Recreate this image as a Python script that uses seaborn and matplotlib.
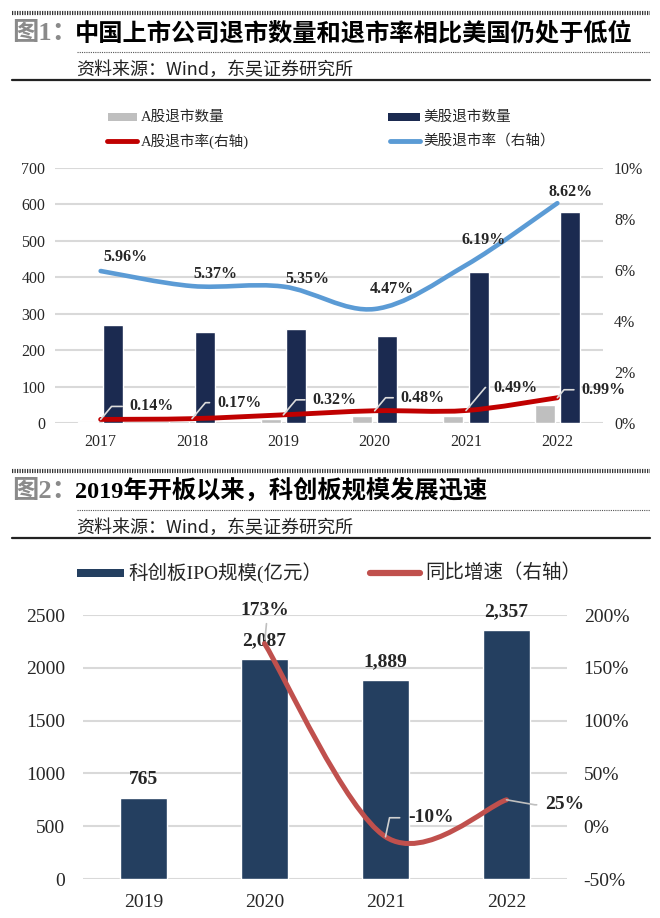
import matplotlib
matplotlib.use('Agg')
import matplotlib.pyplot as plt
from matplotlib.path import Path
from matplotlib.patches import PathPatch, Rectangle
from matplotlib.lines import Line2D
import seaborn as sns
import numpy as np
import pandas as pd

# ---- data: figure 1 ----
years1 = ['2017', '2018', '2019', '2020', '2021', '2022']
a_delist = [4, 5, 11, 19, 20, 50]
us_delist = [270, 251, 257, 238, 415, 578]
a_rate = [0.14, 0.17, 0.32, 0.48, 0.49, 0.99]
us_rate = [5.96, 5.37, 5.35, 4.47, 6.19, 8.62]

# ---- data: figure 2 ----
years2 = ['2019', '2020', '2021', '2022']
star_ipo = [765, 2087, 1889, 2357]
star_growth_years = [1, 2, 3]          # index into years2 (2020-2022)
star_growth = [173, -10, 25]

W, H = 660, 918
GRAY = '#bfbfbf'
NAVY1 = '#1b2a50'
NAVY2 = '#243f60'
RED1 = '#c00000'
BLUE1 = '#5b9bd5'
RED2 = '#c0504d'
GRID = '#d9d9d9'
SERIF = ['Liberation Serif', 'Noto Sans CJK SC']
SANS = ['Noto Sans CJK SC', 'DejaVu Sans']

sns.set_theme(style='white')
plt.rcParams['font.family'] = SERIF


def fx(x):
    return x / W


def fy(y):
    return 1 - y / H


def smooth_path(xs, ys):
    # excel-like smoothed line, drawn as bezier curves through the points
    pts = np.column_stack([xs, ys]).astype(float)
    ext = np.vstack([pts[0], pts, pts[-1]])
    verts = [pts[0]]
    codes = [Path.MOVETO]
    for i in range(len(pts) - 1):
        p0, p1, p2, p3 = ext[i], ext[i + 1], ext[i + 2], ext[i + 3]
        verts += [p1 + (p2 - p0) / 6, p2 - (p3 - p1) / 6, p2]
        codes += [Path.CURVE4] * 3
    return Path(verts, codes)


def header(fig, y0, num, title):
    fig.add_artist(Line2D([fx(12), fx(650)], [fy(y0), fy(y0)], transform=fig.transFigure,
                          color='#333333', lw=3, linestyle=(0, (0.3, 0.3))))
    fig.text(fx(12), fy(y0 + 20), '图' + num + '：', color='#8a8a8a', fontsize=19,
             family=SERIF, weight='bold', va='center', ha='left')
    fig.text(fx(75), fy(y0 + 20), title, color='black', fontsize=17.5,
             family=SERIF, weight='heavy', va='center', ha='left')
    fig.add_artist(Line2D([fx(77), fx(650)], [fy(y0 + 39), fy(y0 + 39)], transform=fig.transFigure,
                          color='#555555', lw=0.8, linestyle=(0, (1, 1))))
    fig.text(fx(76), fy(y0 + 57), '资料来源：Wind，东吴证券研究所', color='#222222', fontsize=13,
             family=SANS, va='center', ha='left')
    fig.add_artist(Line2D([fx(12), fx(650)], [fy(y0 + 67), fy(y0 + 67)], transform=fig.transFigure,
                          color='#222222', lw=1.6))


def legend_patch(fig, x0, x1, y, h, color, label, tx, size):
    fig.add_artist(Rectangle((fx(x0), fy(y + h / 2)), (x1 - x0) / W, h / H,
                             transform=fig.transFigure, color=color, lw=0))
    fig.text(fx(tx), fy(y), label, fontsize=size, family=SERIF, va='center', ha='left')


def legend_line(fig, x0, x1, y, lw, color, label, tx, size):
    fig.add_artist(Line2D([fx(x0), fx(x1)], [fy(y), fy(y)], transform=fig.transFigure,
                          color=color, lw=lw, solid_capstyle='round'))
    fig.text(fx(tx), fy(y), label, fontsize=size, family=SERIF, va='center', ha='left')


def style_axes(ax, size):
    for s in ax.spines.values():
        s.set_visible(False)
    ax.tick_params(length=0, labelsize=size)


fig = plt.figure(figsize=(W / 100, H / 100), dpi=100)
fig.patch.set_facecolor('white')

# ================= figure 1 =================
header(fig, 13, '1', '中国上市公司退市数量和退市率相比美国仍处于低位')
legend_patch(fig, 108, 137, 117, 8, GRAY, 'A股退市数量', 141, 10.5)
legend_patch(fig, 388, 420, 117, 8, NAVY1, '美股退市数量', 423, 10.5)
legend_line(fig, 107, 137, 141, 3.5, RED1, 'A股退市率(右轴)', 141, 10.5)
legend_line(fig, 390, 420, 141, 3.5, BLUE1, '美股退市率（右轴）', 423, 10.5)

ax1 = fig.add_axes([fx(55), fy(423), (603 - 55) / W, (423 - 168) / H])
df1 = pd.DataFrame({
    '年份': years1 * 2,
    '数量': a_delist + us_delist,
    '类型': ['A股退市数量'] * len(years1) + ['美股退市数量'] * len(years1),
})
sns.barplot(data=df1, x='年份', y='数量', hue='类型', hue_order=['A股退市数量', '美股退市数量'],
            palette=[GRAY, NAVY1], saturation=1, width=0.55, gap=0.2, legend=False, ax=ax1)
ax1.set_xlim(-0.5, len(years1) - 0.5)
ax1.set_ylim(0, 700)
ax1.set_yticks(range(0, 701, 100))
ax1.set_xlabel('')
ax1.set_ylabel('')
ax1.yaxis.grid(True, color=GRID, lw=1.5)
ax1.set_axisbelow(True)
style_axes(ax1, 11.5)
ax1.tick_params(axis='y', pad=7)
ax1.tick_params(axis='x', pad=8)

ax1r = ax1.twinx()
ax1r.set_ylim(0, 10)
ax1r.set_yticks(range(0, 11, 2))
ax1r.set_yticklabels([f'{t}%' for t in range(0, 11, 2)])
style_axes(ax1r, 11.5)
ax1r.tick_params(axis='y', pad=8)
ax1r.grid(False)

x1 = np.arange(len(years1))
ax1r.add_patch(PathPatch(smooth_path(x1, us_rate), fill=False, edgecolor=BLUE1, lw=3.3, capstyle='round'))
ax1r.add_patch(PathPatch(smooth_path(x1, a_rate), fill=False, edgecolor=RED1, lw=3.5, capstyle='round'))

blue_off = [(25, 14), (23, 12), (24, 8), (17, 20), (18, 25), (13, 11)]
for i, v in enumerate(us_rate):
    dx, dy = blue_off[i]
    ax1r.annotate(f'{v:.2f}%', xy=(i, v), xytext=(dx * 0.72, dy * 0.72), textcoords='offset points',
                  ha='center', va='center', fontsize=11.5, weight='bold')

red_off = [(29, 13), (25, 16), (29, 15), (26, 13), (27, 23), (24, 8)]
for i, v in enumerate(a_rate):
    dx, dy = red_off[i]
    ax1r.annotate(f'{v:.2f}%', xy=(i, v), xytext=(dx * 0.72, dy * 0.72), textcoords='offset points',
                  ha='left', va='center', fontsize=11.5, weight='bold',
                  arrowprops=dict(arrowstyle='-', color='#dcdcdc', lw=1.2, relpos=(0, 0.5),
                                  connectionstyle='angle,angleA=0,angleB=50,rad=0',
                                  shrinkA=3, shrinkB=0))

# ================= figure 2 =================
header(fig, 471, '2', '2019年开板以来，科创板规模发展迅速')
legend_patch(fig, 77, 124, 573, 8, NAVY2, '科创板IPO规模(亿元）', 128, 14)
legend_line(fig, 370, 420, 573, 4.5, RED2, '同比增速（右轴）', 425, 14)

ax2 = fig.add_axes([fx(83), fy(879), (567 - 83) / W, (879 - 615) / H])
sns.barplot(x=years2, y=star_ipo, color=NAVY2, saturation=1, width=0.39, ax=ax2)
ax2.set_xlim(-0.5, len(years2) - 0.5)
ax2.set_ylim(0, 2500)
ax2.set_yticks(range(0, 2501, 500))
ax2.yaxis.grid(True, color=GRID, lw=1.5)
ax2.set_axisbelow(True)
style_axes(ax2, 14)
ax2.tick_params(axis='y', pad=13)
ax2.tick_params(axis='x', pad=11)
ax2.bar_label(ax2.containers[0], labels=[f'{v:,}' for v in star_ipo], padding=7,
              fontsize=14, weight='bold')

ax2r = ax2.twinx()
ax2r.set_ylim(-50, 200)
ax2r.set_yticks(range(-50, 201, 50))
ax2r.set_yticklabels([f'{t}%' for t in range(-50, 201, 50)])
style_axes(ax2r, 14)
ax2r.tick_params(axis='y', pad=12)
ax2r.grid(False)

ax2r.add_patch(PathPatch(smooth_path(star_growth_years, star_growth), fill=False,
                         edgecolor=RED2, lw=3.6, capstyle='round'))

ax2r.annotate(f'{star_growth[0]}%', xy=(star_growth_years[0], star_growth[0]),
              xytext=(0, 33 * 0.72), textcoords='offset points', ha='center', va='center',
              fontsize=14, weight='bold',
              arrowprops=dict(arrowstyle='-', color='#bfbfbf', lw=1.2, relpos=(0.55, 0),
                              shrinkA=1, shrinkB=3))
ax2r.annotate(f'{star_growth[1]}%', xy=(star_growth_years[1], star_growth[1]),
              xytext=(23 * 0.72, 19 * 0.72), textcoords='offset points', ha='left', va='center',
              fontsize=14, weight='bold',
              arrowprops=dict(arrowstyle='-', color='#d0d0d0', lw=1.2, relpos=(0, 0.5),
                              connectionstyle='angle,angleA=0,angleB=78,rad=0',
                              shrinkA=4, shrinkB=0))
ax2r.annotate(f'{star_growth[2]}%', xy=(star_growth_years[2], star_growth[2]),
              xytext=(39 * 0.72, -5 * 0.72), textcoords='offset points', ha='left', va='center',
              fontsize=14, weight='bold',
              arrowprops=dict(arrowstyle='-', color='#bfbfbf', lw=1.2, relpos=(0, 0.5),
                              connectionstyle='angle,angleA=0,angleB=-10,rad=0',
                              shrinkA=4, shrinkB=0))

fig.savefig('out.png', dpi=100)
